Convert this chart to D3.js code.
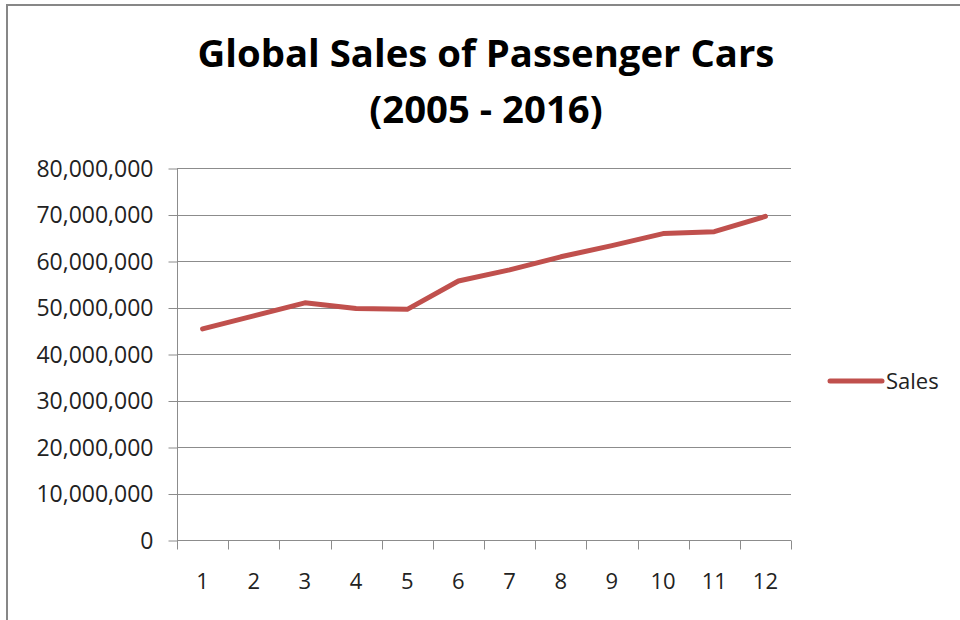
<!DOCTYPE html>
<html>
<head>
<meta charset="utf-8">
<script src="https://cdn.jsdelivr.net/npm/d3@7"></script>
<style>
  html, body { margin: 0; padding: 0; background: #fff; }
  svg { display: block; }
</style>
</head>
<body>
<div id="chart"></div>
<script>
// Data
const categories = ['1', '2', '3', '4', '5', '6', '7', '8', '9', '10', '11', '12'];
const sales = [45400000, 48200000, 51000000, 49800000, 49600000, 55700000, 58100000, 60900000, 63300000, 65900000, 66300000, 69600000];
const yTicks = [0, 10000000, 20000000, 30000000, 40000000, 50000000, 60000000, 70000000, 80000000];
const seriesName = 'Sales';
const titleLines = ['Global Sales of Passenger Cars', '(2005 - 2016)'];

const width = 960, height = 620;
const margin = { top: 168, right: 169, bottom: 80, left: 177 };
const gridColor = '#8c8c8c';
const lineColor = '#c0504d';
const font = '"Open Sans", Calibri, sans-serif';

const svg = d3.select('#chart').append('svg')
  .attr('width', width)
  .attr('height', height);

// outer chart border (Excel chart area)
svg.append('rect')
  .attr('x', 7).attr('y', 5)
  .attr('width', 980).attr('height', 640)
  .attr('fill', '#fff')
  .attr('stroke', '#878787')
  .attr('stroke-width', 2);

const x = d3.scaleBand().domain(categories).range([margin.left, width - margin.right]);
const y = d3.scaleLinear().domain([0, 80000000]).range([height - margin.bottom, margin.top]);

// gridlines
svg.append('g')
  .selectAll('line')
  .data(yTicks.filter(d => d > 0))
  .enter().append('line')
  .attr('x1', margin.left).attr('x2', width - margin.right)
  .attr('y1', d => Math.round(y(d)) + 0.5).attr('y2', d => Math.round(y(d)) + 0.5)
  .attr('stroke', gridColor).attr('stroke-width', 1);

// Y axis
const yAxis = svg.append('g')
  .attr('transform', `translate(${margin.left + 0.5},0)`)
  .call(d3.axisLeft(y).tickValues(yTicks).tickSize(9).tickPadding(15).tickFormat(d3.format(',')));
yAxis.selectAll('path, line').attr('stroke', gridColor);
yAxis.select('.domain').attr('d', `M0,${margin.top}V${height - margin.bottom}`);
yAxis.selectAll('text')
  .attr('font-family', font).attr('font-size', 23).attr('fill', '#222')
  .attr('dy', '0.36em');
yAxis.selectAll('.tick line').attr('transform', 'translate(0,0.5)');

// X axis: ticks at band boundaries
const bottomY = Math.round(y(0)) + 0.5;
const xg = svg.append('g');
xg.append('line')
  .attr('x1', margin.left).attr('x2', width - margin.right)
  .attr('y1', bottomY).attr('y2', bottomY)
  .attr('stroke', gridColor);
const bounds = categories.map(c => x(c)).concat([x(categories[categories.length - 1]) + x.bandwidth()]);
xg.selectAll('.xt')
  .data(bounds)
  .enter().append('line')
  .attr('x1', d => Math.round(d) + 0.5).attr('x2', d => Math.round(d) + 0.5)
  .attr('y1', bottomY).attr('y2', bottomY + 9)
  .attr('stroke', gridColor);
xg.selectAll('text')
  .data(categories)
  .enter().append('text')
  .attr('x', d => x(d) + x.bandwidth() / 2)
  .attr('y', bottomY + 48)
  .attr('text-anchor', 'middle')
  .attr('font-family', font).attr('font-size', 22).attr('fill', '#222')
  .text(d => d);

// sales line
const line = d3.line()
  .x((d, i) => x(categories[i]) + x.bandwidth() / 2)
  .y(d => y(d));
svg.append('path')
  .datum(sales)
  .attr('fill', 'none')
  .attr('stroke', lineColor)
  .attr('stroke-width', 5)
  .attr('stroke-linejoin', 'round')
  .attr('stroke-linecap', 'round')
  .attr('d', line);

// legend
const lg = svg.append('g').attr('transform', 'translate(830,381)');
lg.append('line')
  .attr('x1', 0).attr('x2', 52).attr('y1', 0).attr('y2', 0)
  .attr('stroke', lineColor).attr('stroke-width', 5).attr('stroke-linecap', 'round');
lg.append('text')
  .attr('x', 56).attr('y', 8)
  .attr('font-family', font).attr('font-size', 22).attr('fill', '#222')
  .text(seriesName);

// title, sized so the first line matches the reference width
const titleY = [67, 123];
const titles = svg.selectAll('.title')
  .data(titleLines)
  .enter().append('text')
  .attr('class', 'title')
  .attr('x', 486).attr('y', (d, i) => titleY[i])
  .attr('text-anchor', 'middle')
  .attr('font-family', font).attr('font-weight', 'bold')
  .attr('font-size', 32).attr('fill', '#000')
  .text(d => d);
const w0 = titles.nodes()[0].getComputedTextLength();
titles.attr('font-size', 32 * 577 / w0);
</script>
</body>
</html>
